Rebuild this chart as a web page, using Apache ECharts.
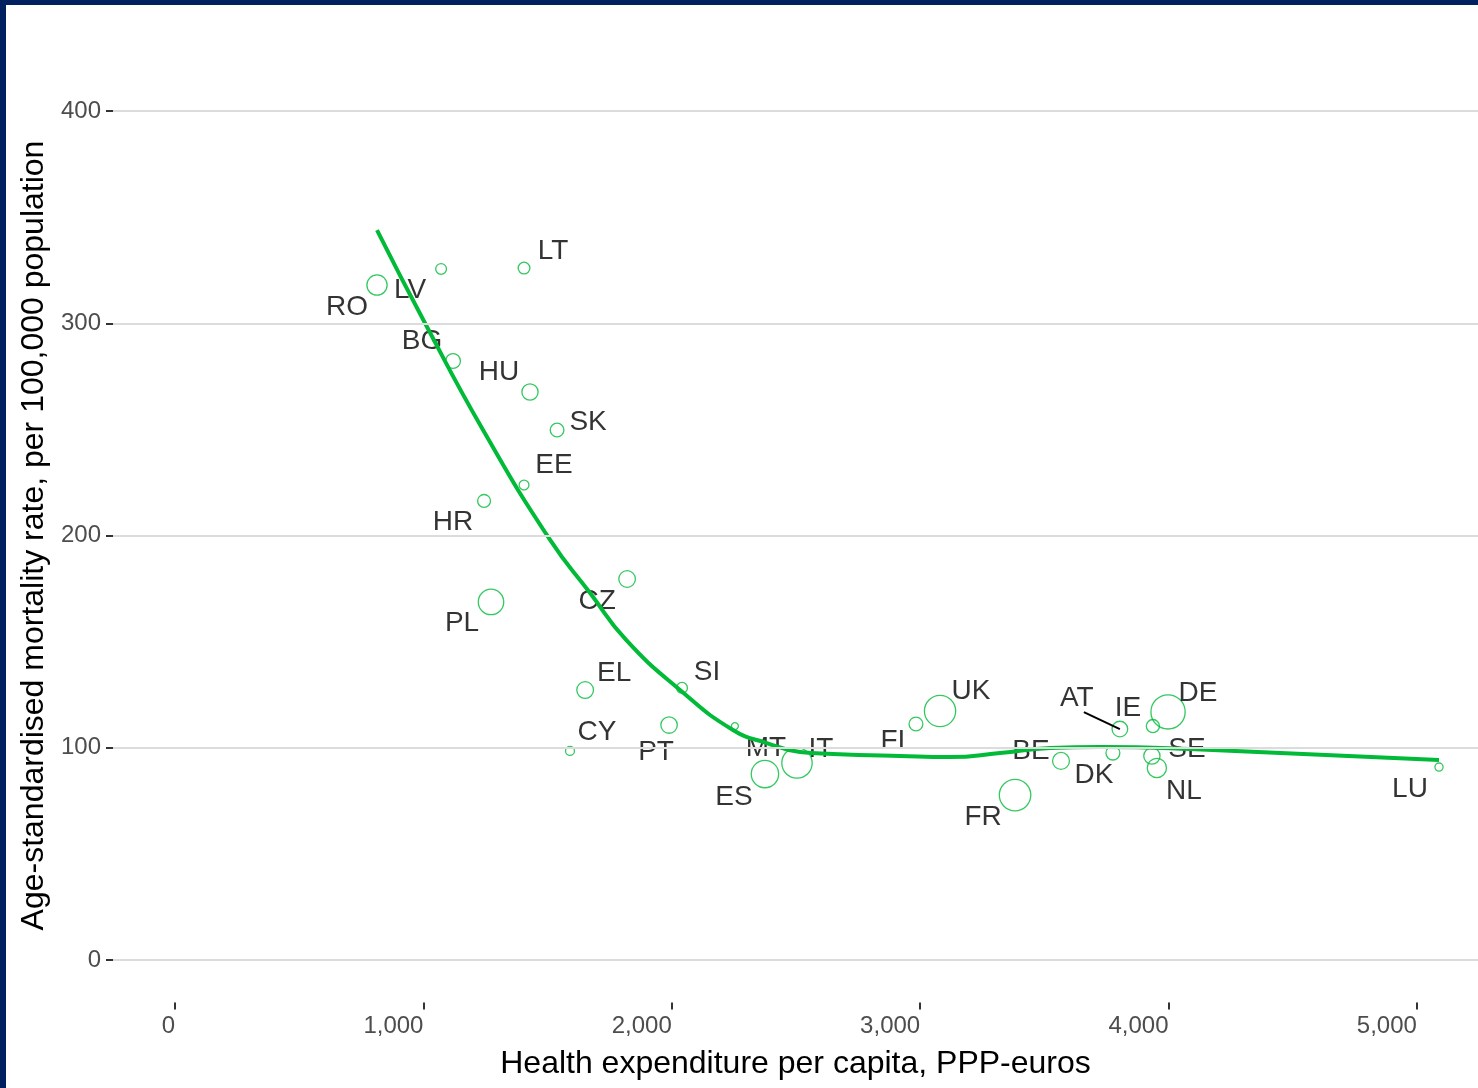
<!DOCTYPE html>
<html>
<head>
<meta charset="utf-8">
<script src="https://cdn.jsdelivr.net/npm/echarts@6/dist/echarts.min.js"></script>
<style>
  html, body { margin: 0; padding: 0; background: #fff; }
  #chart { width: 1478px; height: 1088px; }
  .edge { position: absolute; background: #002060; }
</style>
</head>
<body>
<div id="chart"></div>
<div class="edge" style="left:0;top:0;width:1478px;height:5px"></div>
<div class="edge" style="left:0;top:0;width:6px;height:1088px"></div>
<script>
// data
const countries = ['RO', 'LV', 'LT', 'BG', 'HU', 'SK', 'EE', 'HR', 'PL', 'CZ', 'EL', 'SI', 'CY', 'PT',
  'MT', 'ES', 'IT', 'FI', 'UK', 'FR', 'BE', 'DK', 'AT', 'IE', 'DE', 'SE', 'NL', 'LU'];
const spending = [813, 1071, 1405, 1119, 1429, 1538, 1405, 1244, 1272, 1820, 1651, 2041, 1590, 1989,
  2254, 2375, 2504, 2983, 3080, 3382, 3567, 3776, 3804, 3937, 3998, 3933, 3953, 5089];
const mortality = [318, 325.6, 326, 282.2, 267.6, 249.7, 223.8, 216.3, 168.7, 179.5, 127.2, 128.2, 98.5, 110.7,
  110.2, 87.6, 92.8, 111.2, 117.3, 77.7, 93.8, 97.5, 108.8, 110.2, 116.9, 96.1, 90.5, 90.9];
// population, millions (drives bubble size)
const population = [19.8, 2.0, 2.9, 7.2, 9.8, 5.4, 1.3, 4.2, 38.0, 10.6, 10.8, 2.1, 0.85, 10.3,
  0.44, 46.4, 60.7, 5.5, 65.6, 66.8, 11.3, 5.7, 8.7, 4.7, 82.2, 9.9, 17.0, 0.58];

// loess trend
const trendX = [813, 1006, 1240, 1510, 1671, 1816, 2033, 2246, 2383, 2516, 2649, 2919, 3120, 3321, 3523, 3724, 4086, 5089];
const trendY = [343.9, 300.1, 249.7, 197.9, 172.9, 150.8, 127.2, 108.4, 102.2, 98.0, 97.1, 96.1, 95.6, 97.5, 99.9, 100.4, 99.4, 94.2];

const xTicks = [0, 1000, 2000, 3000, 4000, 5000];
const yTicks = [0, 100, 200, 300, 400];

// label placement (pixel offsets from bubble centre)
const labelOffset = {
  RO: [-30, 22], LV: [-31, 21], LT: [29, -17], BG: [-31, -20], HU: [-31, -20], SK: [31, -8],
  EE: [30, -20], HR: [-31, 21], PL: [-29, 21], CZ: [-30, 22], EL: [29, -17], SI: [25, -16],
  CY: [27, -19], PT: [-13, 27], MT: [31, 22], ES: [-31, 23], IT: [24, -14], FI: [-23, 17],
  UK: [31, -20], FR: [-32, 22], BE: [-30, -10], DK: [-19, 22], AT: [-43, -31], IE: [-25, -18],
  DE: [30, -19], SE: [35, -7], NL: [27, 23], LU: [-29, 22]
};

const GREEN = '#00BA38';
const FONT = 'Arial, "Liberation Sans", sans-serif';

const pMin = Math.min(...population);
const pMax = Math.max(...population);
const bubbleSize = p => 2 * (3.5 + 13.6 * Math.sqrt((p - pMin) / (pMax - pMin)));

const points = countries.map((c, i) => ({
  name: c,
  value: [spending[i], mortality[i]],
  symbolSize: bubbleSize(population[i]),
  label: { offset: labelOffset[c] }
}));

const chart = echarts.init(document.getElementById('chart'), null, { renderer: 'canvas' });

const axisLabelStyle = { color: '#4d4d4d', fontSize: 24, fontFamily: FONT };

chart.setOption({
  backgroundColor: '#fff',
  animation: false,
  grid: { left: 113, right: 0, top: 68.55, bottom: 85.55 },
  xAxis: {
    type: 'value',
    min: -250,
    max: 5246,
    name: 'Health expenditure per capita, PPP-euros',
    nameLocation: 'middle',
    nameGap: 46,
    nameTextStyle: { color: '#000', fontSize: 32, fontFamily: FONT, verticalAlign: 'top' },
    axisLine: { show: false, onZero: false },
    axisTick: { show: true, length: 7, customValues: xTicks, lineStyle: { color: '#333', width: 2 } },
    axisLabel: {
      ...axisLabelStyle, margin: 12, align: 'right', customValues: xTicks,
      formatter: v => v.toLocaleString('en-US')
    },
    splitLine: { show: false }
  },
  yAxis: {
    type: 'value',
    min: -20,
    max: 420,
    name: 'Age-standardised mortality rate, per 100,000 population',
    nameLocation: 'middle',
    nameGap: 60,
    nameTextStyle: { color: '#000', fontSize: 32, fontFamily: FONT },
    axisLine: { show: false, onZero: false },
    axisTick: { show: true, length: 7, customValues: yTicks, lineStyle: { color: '#333', width: 2 } },
    axisLabel: { ...axisLabelStyle, margin: 12, customValues: yTicks, padding: [4, 0, 0, 0] },
    splitLine: { show: false }
  },
  series: [
    {
      // horizontal grid lines
      type: 'line',
      data: [],
      markLine: {
        silent: true,
        symbol: 'none',
        label: { show: false },
        lineStyle: { color: '#dcdcdc', width: 2, type: 'solid' },
        data: yTicks.map(v => ({ yAxis: v }))
      },
      z: 0
    },
    {
      type: 'scatter',
      data: points,
      symbol: 'circle',
      itemStyle: { color: 'rgba(255,255,255,0)', borderColor: GREEN, borderWidth: 1.3 },
      label: {
        show: true,
        position: 'inside',
        formatter: '{b}',
        color: '#000',
        fontSize: 28,
        fontFamily: FONT,
        align: 'center',
        verticalAlign: 'middle'
      },
      z: 2
    },
    {
      type: 'line',
      data: trendX.map((x, i) => [x, trendY[i]]),
      smooth: 0.5,
      showSymbol: false,
      lineStyle: { color: GREEN, width: 4 },
      z: 3
    }
  ]
});

// leader line for AT label
const iAT = countries.indexOf('AT');
const pAT = chart.convertToPixel({ gridIndex: 0 }, [spending[iAT], mortality[iAT]]);
chart.setOption({
  graphic: [{
    type: 'line',
    shape: { x1: pAT[0] - 36, y1: pAT[1] - 17, x2: pAT[0], y2: pAT[1] },
    style: { stroke: '#000', lineWidth: 2 },
    z: 10
  }]
});
</script>
</body>
</html>
